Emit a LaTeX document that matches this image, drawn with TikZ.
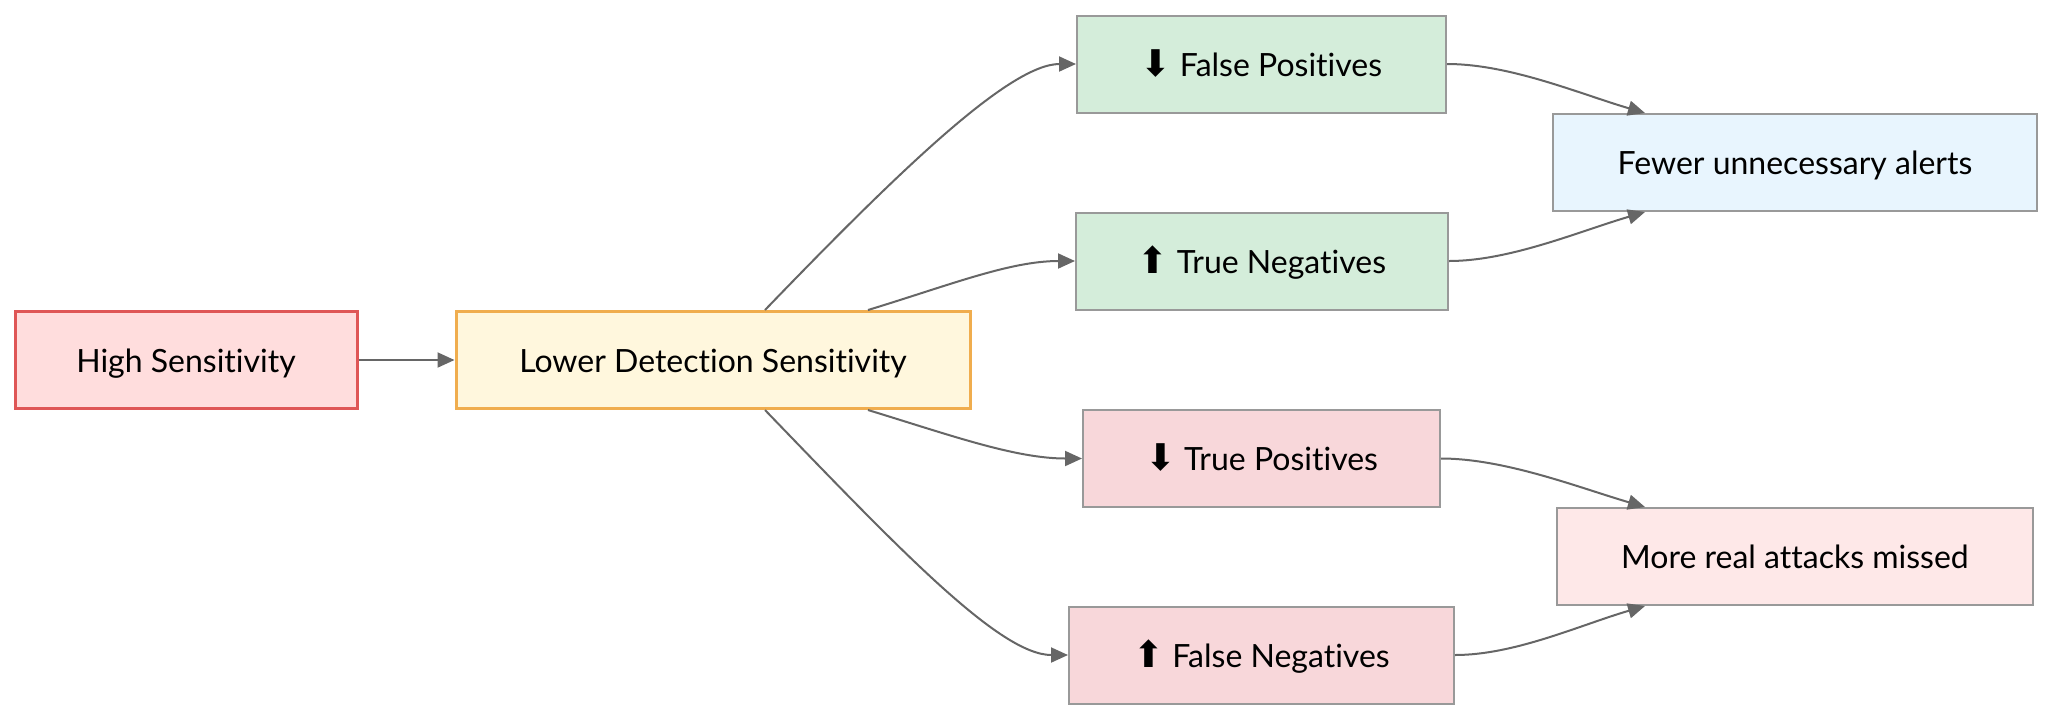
\documentclass[tikz,border=0pt]{standalone}
\usepackage{fontspec}
\setmainfont{Lato}[Ligatures=NoCommon]
\newfontfamily\symfont[Scale=1.15]{DejaVu Sans}
\usetikzlibrary{arrows.meta}
\definecolor{edgegray}{HTML}{666666}
\definecolor{boxgray}{HTML}{999999}
\definecolor{hsfill}{HTML}{FFDDDD}
\definecolor{hsline}{HTML}{DF5656}
\definecolor{ldsfill}{HTML}{FFF7DD}
\definecolor{ldsline}{HTML}{F0AD4E}
\definecolor{goodfill}{HTML}{D4EDDA}
\definecolor{badfill}{HTML}{F8D7DA}
\definecolor{fewerfill}{HTML}{E8F5FE}
\definecolor{morefill}{HTML}{FEE8E8}
\begin{document}
\begin{tikzpicture}[x=0.5pt,y=-0.5pt,
    flowbox/.style={draw=boxgray,line width=1pt,minimum height=48.5pt,inner sep=0pt,text height=13.5pt,text depth=1.5pt,font=\fontsize{16}{19}\selectfont},
    flowedge/.style={draw=edgegray,line width=1pt,-{Triangle[length=8.5pt,width=7.5pt]}}]
    \useasboundingbox (0,0) rectangle (2053,720);

    \node[flowbox,fill=hsfill,draw=hsline,line width=1.5pt,minimum width=171pt] (high) at (186,360) {High Sensitivity};
    \node[flowbox,fill=ldsfill,draw=ldsline,line width=1.5pt,minimum width=257pt] (lower) at (713,360) {Lower Detection Sensitivity};
    \node[flowbox,fill=goodfill,minimum width=184.5pt] (fp) at (1261.5,64) {{\symfont ⬇} False Positives};
    \node[flowbox,fill=goodfill,minimum width=186pt] (tn) at (1262,261) {{\symfont ⬆} True Negatives};
    \node[flowbox,fill=badfill,minimum width=178.5pt] (tp) at (1261.5,458.5) {{\symfont ⬇} True Positives};
    \node[flowbox,fill=badfill,minimum width=192.5pt] (fn) at (1261.5,655) {{\symfont ⬆} False Negatives};
    \node[flowbox,fill=fewerfill,minimum width=242pt] (fewer) at (1795,162.5) {Fewer unnecessary alerts};
    \node[flowbox,fill=morefill,minimum width=238pt] (more) at (1795,556.5) {More real attacks missed};

    \draw[flowedge] (high) -- (lower);
    \draw[flowedge] ([xshift=26pt]lower.north) .. controls (900,170) and (1010,64) .. (fp.west);
    \draw[flowedge] ([xshift=77.5pt]lower.north) .. controls (950,285) and (1010,261) .. (tn.west);
    \draw[flowedge] ([xshift=77.5pt]lower.south) .. controls (950,435) and (1015,458.5) .. (tp.west);
    \draw[flowedge] ([xshift=26pt]lower.south) .. controls (900,550) and (1000,655) .. (fn.west);
    \draw[flowedge] (fp.east) .. controls (1510,64) and (1580,94) .. ([xshift=-75pt]fewer.north);
    \draw[flowedge] (tn.east) .. controls (1510,261) and (1580,231) .. ([xshift=-75pt]fewer.south);
    \draw[flowedge] (tp.east) .. controls (1505,458.5) and (1580,488) .. ([xshift=-75pt]more.north);
    \draw[flowedge] (fn.east) .. controls (1515,655) and (1580,625) .. ([xshift=-75pt]more.south);
\end{tikzpicture}
\end{document}
